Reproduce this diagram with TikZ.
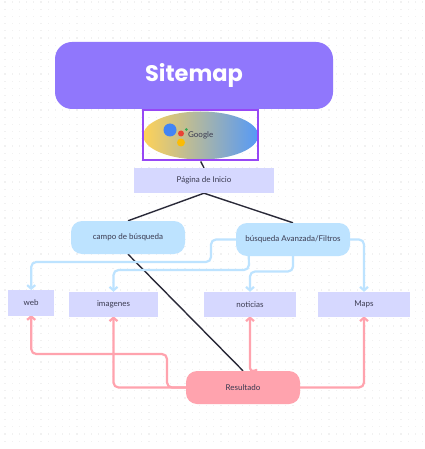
\documentclass[tikz,border=0pt]{standalone}
\usepackage{fontspec}
\setmainfont{Lato}
\newfontfamily\titlefont{Poppins}
\usetikzlibrary{arrows.meta,shapes.geometric}
\definecolor{purp}{HTML}{9077FC}
\definecolor{boxp}{HTML}{9747F5}
\definecolor{lav}{HTML}{D6D8FF}
\definecolor{skyb}{HTML}{BDE3FF}
\definecolor{pinkr}{HTML}{FFA3AE}
\definecolor{ink}{HTML}{3A3A50}
\definecolor{dotc}{HTML}{F1F1F1}
\definecolor{gyel}{HTML}{FFD257}
\definecolor{gblu}{HTML}{5599F7}
\pgfdeclarelayer{back}
\pgfdeclarelayer{under}
\pgfsetlayers{back,under,main}
\tikzset{
  x=1pt,y=-1pt,
  lab/.style={text=ink,font=\fontsize{8}{10}\selectfont,inner sep=0pt},
  flat/.style={lab,fill=lav,rectangle},
  pill/.style={lab,fill=skyb,rectangle,rounded corners=11pt,minimum width=114pt,minimum height=33pt},
  bluearrow/.style={draw=skyb,line width=2.2pt,rounded corners=5pt,-{Straight Barb[length=3.5pt,width=8pt]}},
  pinkarrow/.style={draw=pinkr,line width=2.2pt,rounded corners=5pt,-{Straight Barb[length=3.5pt,width=8pt]}},
  blackline/.style={draw=ink!70!black,line width=1.4pt},
}
\begin{document}
\begin{tikzpicture}
\useasboundingbox (0,0) rectangle (424,449);
\begin{pgfonlayer}{back}
\fill[white] (0,0) rectangle (424,449);
\foreach \i in {0,...,58}{\foreach \j in {0,...,61}{
  \fill[dotc] ({5+7.2*\i-0.6},{2+7.2*\j-0.6}) rectangle ++(1.2,1.2);
}}
\end{pgfonlayer}
\node[rectangle,fill=purp,rounded corners=17pt,minimum width=278pt,minimum height=67pt,inner sep=0pt,text=white,font=\fontsize{22.5}{28}\selectfont\titlefont\bfseries] (title) at (194,75.5) {Sitemap};
\node[ellipse,left color=gyel,right color=gblu,minimum width=115pt,minimum height=48pt,inner sep=0pt] (oval) at (200.7,135.5) {};
\node[rectangle,draw=boxp,line width=2pt,minimum width=115pt,minimum height=50pt,inner sep=0pt] (gbox) at (200.7,135.5) {};
\fill[color={rgb,255:red,66;green,133;blue,244}] (170,130) circle (6.5);
\fill[color={rgb,255:red,234;green,67;blue,53}] (181,133.5) circle (3);
\fill[color={rgb,255:red,52;green,168;blue,83}] (186.3,129.5) circle (1.5);
\fill[color={rgb,255:red,251;green,188;blue,5}] (181,142.5) circle (4);
\node[lab] (glabel) at (200.7,135.5) {Google};
\node[flat,minimum width=140pt,minimum height=25pt] (home) at (204,180.5) {Página de Inicio};
\node[pill] (campo) at (128,237.5) {campo de búsqueda};
\node[pill] (busq) at (293,239.5) {búsqueda Avanzada/Filtros};
\node[flat,minimum width=45.5pt,minimum height=25.5pt] (web) at (31.2,303) {web};
\node[flat,minimum width=89pt,minimum height=25pt] (imgs) at (113.5,304.5) {imagenes};
\node[flat,minimum width=92pt,minimum height=25pt] (news) at (250,304.5) {noticias};
\node[flat,minimum width=92pt,minimum height=25pt] (maps) at (364,304.5) {Maps};
\node[pill,fill=pinkr] (res) at (243,387.5) {Resultado};
\begin{pgfonlayer}{under}
\draw[blackline] (gbox.south) -- (home.north);
\draw[blackline] (home.south) -- (campo.north);
\draw[blackline] (home.south) -- (busq.north);
\draw[blackline] (campo.south) -- (res.north);
\draw[bluearrow] (busq.west) -- (211,239.5) -- (211,262) -- (31.2,262) -- (web.north);
\draw[bluearrow] ([xshift=13pt]busq.south west) -- (249,270) -- (113.5,270) -- (imgs.north);
\draw[bluearrow] (busq.south) -- (293,271.5) -- (250,271.5) -- (news.north);
\draw[bluearrow] (busq.east) -- (364,239.5) -- (maps.north);
\draw[pinkarrow] (res.west) -- (167,387.5) -- (167,354) -- (31.2,354) -- ([yshift=1pt]web.south);
\draw[pinkarrow] (res.west) -- (113.5,387.5) -- ([yshift=1pt]imgs.south);
\draw[pinkarrow,rounded corners=4pt] ([xshift=14pt,yshift=1pt]res.north) -- (250,372) -- ([yshift=1pt]news.south);
\draw[pinkarrow] (res.east) -- (364,387.5) -- ([yshift=1pt]maps.south);
\end{pgfonlayer}
\end{tikzpicture}
\end{document}
